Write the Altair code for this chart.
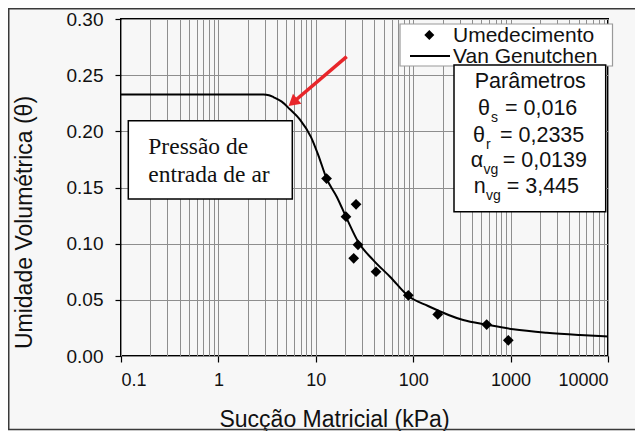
import altair as alt
import pandas as pd

# ---------------- data ----------------
succao_pts = [12.9, 20.4, 25.9, 27.1, 24.5, 41.5, 89.1, 178.5, 568, 947]
theta_pts = [0.158, 0.124, 0.135, 0.099, 0.087, 0.075, 0.054, 0.037, 0.028, 0.014]

succao_vg = [0.1, 1.0, 2.9, 3.3, 3.7, 4.47, 5.43, 6.88, 8.93, 10.6, 12.9, 16.4, 20.7,
             27.3, 38.9, 57.8, 89.1, 142, 326, 569, 1067, 2350, 5150, 10000]
theta_vg = [0.2329, 0.2329, 0.2328, 0.2322, 0.2303, 0.2264, 0.2196, 0.2105, 0.1949, 0.1789,
            0.1580, 0.1418, 0.1228, 0.1015, 0.0854, 0.0706, 0.0534, 0.0445, 0.0320,
            0.0279, 0.0238, 0.0207, 0.0187, 0.0174]

x_major = [0.1, 1, 10, 100, 1000, 10000]
x_tick_values = [round(m * 10.0 ** e, 6) for e in range(-1, 4) for m in range(1, 10)] + [10000]
y_tick_values = [0, 0.05, 0.10, 0.15, 0.20, 0.25, 0.30]

pts = pd.DataFrame({"succao": succao_pts, "theta": theta_pts})
vg = pd.DataFrame({"succao": succao_vg, "theta": theta_vg})
one = pd.DataFrame({"k": [0]})

SANS = "Liberation Sans"
SERIF = "Liberation Serif"
GRID = "#8e8e8e"
INK = "#111111"
major_test = "indexof([0.1,1,10,100,1000,10000], datum.value) >= 0"

x_enc = alt.X(
    "succao:Q",
    scale=alt.Scale(type="log", domain=[0.1, 10000], nice=False),
    axis=alt.Axis(
        values=x_tick_values, format="~g",
        labelExpr=major_test + " ? datum.label : ''",
        labelOverlap=False, grid=True, gridColor=GRID, gridWidth=1,
        domain=False, ticks=True, tickSize=6, tickColor="black", tickWidth=1.2,
        tickOpacity={"condition": {"test": major_test, "value": 1}, "value": 0},
        labelPadding=9, labelFont=SANS, labelFontSize=18, labelColor=INK,
        title="Sucção Matricial (kPa)", titleFont=SANS, titleFontSize=23,
        titleFontWeight="normal", titleColor=INK, titleX=213, titleY=70.7,
        titleAlign="center", titleBaseline="alphabetic",
    ),
)
y_enc = alt.Y(
    "theta:Q",
    scale=alt.Scale(domain=[0, 0.3], nice=False, zero=True),
    axis=alt.Axis(
        values=y_tick_values, format=".2f", grid=True, gridColor=GRID, gridWidth=1,
        domain=False, tickSize=6, tickColor="black", tickWidth=1.2,
        labelPadding=12, labelFont=SANS, labelFontSize=19, labelColor=INK,
        title="Umidade Volumétrica (θ)", titleFont=SANS, titleFontSize=23,
        titleFontWeight="normal", titleColor=INK, titleX=-90, titleY=203,
        titleAngle=270, titleAlign="center", titleBaseline="alphabetic",
    ),
)

curve = alt.Chart(vg).mark_line(color="black", strokeWidth=2, interpolate="monotone").encode(x=x_enc, y=y_enc)
points = alt.Chart(pts).mark_point(shape="diamond", filled=True, size=115, color="black", opacity=1).encode(x=x_enc, y=y_enc)


def box(x0, y0, x1, y1, stroke, sw, fill="white"):
    return alt.Chart(one).mark_rect(fill=fill, stroke=stroke, strokeWidth=sw).encode(
        x=alt.value(x0), x2=alt.value(x1), y=alt.value(y0), y2=alt.value(y1))


def txt(s, x, y, size, align="left", font=SANS, color=INK):
    return alt.Chart(one).mark_text(text=s, align=align, baseline="alphabetic", font=font,
                                    fontSize=size, color=color).encode(x=alt.value(x), y=alt.value(y))


frame = alt.Chart(one).mark_rect(fillOpacity=0, stroke="#3a3a3a", strokeWidth=1.5).encode(
    x=alt.value(-112.25), x2=alt.value(540), y=alt.value(-10.25), y2=alt.value(410.5))

legend_box = box(279, 5, 491.5, 47, "#9a9a9a", 1.2)
legend_dia = alt.Chart(one).mark_point(shape="diamond", filled=True, size=100, color="black", opacity=1).encode(
    x=alt.value(308.3), y=alt.value(16))
legend_line = alt.Chart(one).mark_rule(color="black", strokeWidth=2).encode(
    x=alt.value(289), x2=alt.value(329), y=alt.value(37))
legend_t1 = txt("Umedecimento", 332, 22.7, 21)
legend_t2 = txt("Van Genutchen", 332, 43.7, 21)

params_box = box(333, 46, 484.7, 192.7, "black", 1.5)
FS = 21.5
SUB = 14
params = [
    txt("Parâmetros", 409.3, 69.3, FS, align="center"),
    txt("θ", 369, 96, FS, align="right"), txt("s", 370, 103, SUB), txt("= 0,016", 384, 96, FS),
    txt("θ", 364, 122.7, FS, align="right"), txt("r", 365, 129.7, SUB), txt("= 0,2335", 379, 122.7, FS),
    txt("α", 362.3, 147.7, FS, align="right"), txt("vg", 362.5, 154.5, SUB), txt("= 0,0139", 381.7, 147.7, FS),
    txt("n", 364.7, 174.3, FS, align="right"), txt("vg", 365, 181, SUB), txt("= 3,445", 385.7, 174.3, FS),
]

text_box = box(7.3, 101.7, 171.3, 180, "black", 1.5)
tb1 = txt("Pressão de", 27.3, 135, 23.5, font=SERIF)
tb2 = txt("entrada de ar", 27.3, 162.7, 23.5, font=SERIF)

RED = "#e8262a"
arrow_shaft = alt.Chart(one).mark_rule(color=RED, strokeWidth=3.5).encode(
    x=alt.value(225.7), y=alt.value(37.7), x2=alt.value(172.5), y2=alt.value(83))
arrow_head = alt.Chart(one).mark_point(shape="triangle-up", filled=True, size=170, color=RED,
                                       opacity=1, angle=229.6).encode(x=alt.value(171.9), y=alt.value(83.4))

chart = alt.layer(
    curve, points, frame,
    legend_box, legend_dia, legend_line, legend_t1, legend_t2,
    params_box, *params,
    text_box, tb1, tb2,
    arrow_shaft, arrow_head,
).properties(
    width=487, height=337,
    padding={"left": 113, "top": 11, "right": 27, "bottom": 75},
    autosize=alt.AutoSizeParams(type="none"),
).configure(background="#f7f7f7").configure_view(stroke="black", strokeWidth=2)

chart.save("out.html", embed_options={"renderer": "svg", "actions": False})
